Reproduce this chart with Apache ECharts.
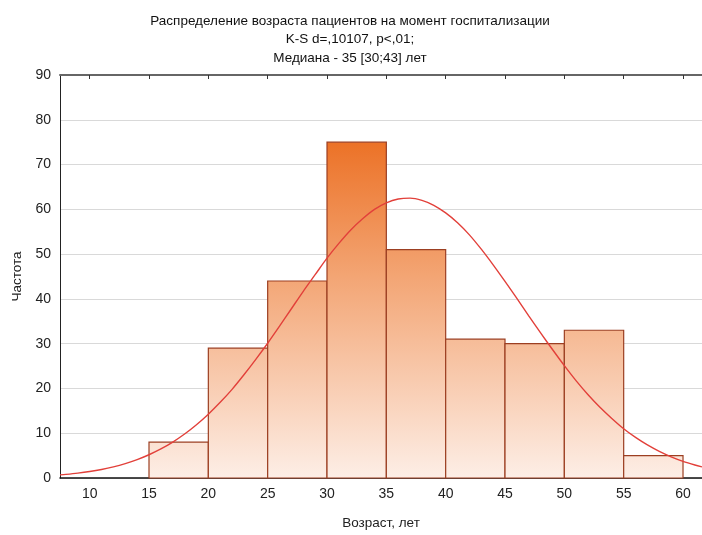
<!DOCTYPE html>
<html>
<head>
<meta charset="utf-8">
<script src="https://cdn.jsdelivr.net/npm/echarts@6/dist/echarts.min.js"></script>
<style>html,body{margin:0;padding:0;background:#fff}#c{width:702px;height:535px}</style>
</head>
<body>
<div id="c"></div>
<script>
var titleLines = ['Распределение возраста пациентов на момент госпитализации', 'K-S d=,10107, p<,01;', 'Медиана - 35 [30;43] лет'];
var binStart = [15, 20, 25, 30, 35, 40, 45, 50, 55];
var binEnd = [20, 25, 30, 35, 40, 45, 50, 55, 60];
var counts = [8, 29, 44, 75, 51, 31, 30, 33, 5];
var curveX = [7.5, 8, 9, 10, 11, 12, 13, 14, 15, 16, 17, 18, 19, 20, 21, 22, 23, 24, 25, 26, 27, 28, 29, 30, 31, 32, 33, 34, 35, 36, 37, 38, 39, 40, 41, 42, 43, 44, 45, 46, 47, 48, 49, 50, 51, 52, 53, 54, 55, 56, 57, 58, 59, 60, 61, 61.6];
var curveY = [0.7, 0.81, 1.09, 1.45, 1.91, 2.49, 3.22, 4.11, 5.19, 6.48, 8.02, 9.82, 11.9, 14.25, 16.9, 19.8, 23.05, 26.5, 30.1, 33.9, 37.8, 41.7, 45.4, 49.1, 52.4, 55.4, 57.9, 60.0, 61.45, 62.3, 62.5, 62.0, 60.9, 59.2, 57.0, 54.3, 51.1, 47.6, 43.9, 40.1, 36.2, 32.4, 28.7, 25.1, 21.7, 18.6, 15.8, 13.3, 11.0, 9.06, 7.38, 5.94, 4.73, 3.73, 2.91, 2.49];
var xTicks = [10, 15, 20, 25, 30, 35, 40, 45, 50, 55, 60];
var xName = 'Возраст, лет';
var yName = 'Частота';

var chart = echarts.init(document.getElementById('c'));
var barData = binStart.map(function (s, i) { return [s, binEnd[i], counts[i]]; });
var curveData = curveX.map(function (x, i) { return [x, curveY[i]]; });
var maxCount = Math.max.apply(null, counts);
var font = 'Liberation Sans, Arial, sans-serif';

chart.setOption({
  animation: false,
  title: {
    text: titleLines.join('\n'),
    left: 345, top: 7, textAlign: 'center',
    textStyle: { fontFamily: font, fontSize: 13.5, fontWeight: 'normal', color: '#111', lineHeight: 18.5 }
  },
  grid: { left: 60, right: 0, top: 75, bottom: 50 },
  xAxis: [{
    type: 'value', min: 7.5, max: 61.6, position: 'bottom',
    name: xName, nameLocation: 'middle', nameGap: 38,
    nameTextStyle: { fontFamily: font, fontSize: 13.5, color: '#222' },
    axisLine: { show: true, lineStyle: { color: '#111', width: 1.5 } },
    axisTick: { show: false },
    axisLabel: { customValues: xTicks, fontFamily: font, fontSize: 14, color: '#222', margin: 9 },
    splitLine: { show: false }
  }, {
    type: 'value', min: 7.5, max: 61.6, position: 'top',
    axisLine: { show: true, lineStyle: { color: '#666', width: 2 } },
    axisTick: { show: true, inside: true, length: 4, customValues: xTicks, lineStyle: { color: '#333' } },
    axisLabel: { show: false },
    splitLine: { show: false }
  }],
  yAxis: {
    type: 'value', min: 0, max: 90, interval: 10,
    name: yName, nameLocation: 'middle', nameGap: 36, nameRotate: 90,
    nameTextStyle: { fontFamily: font, fontSize: 13.5, color: '#222' },
    axisLine: { show: true, lineStyle: { color: '#222', width: 1 } },
    axisTick: { show: false },
    axisLabel: { fontFamily: font, fontSize: 14, color: '#222', margin: 9 },
    splitLine: { show: true, lineStyle: { color: '#d9d9d9', width: 1 } }
  },
  series: [{
    type: 'custom',
    data: barData,
    z: 2,
    renderItem: function (params, api) {
      var p0 = api.coord([api.value(0), api.value(2)]);
      var p1 = api.coord([api.value(1), 0]);
      var gTop = api.coord([0, maxCount])[1];
      var gBot = api.coord([0, 0])[1];
      return {
        type: 'rect',
        shape: { x: p0[0], y: p0[1], width: p1[0] - p0[0], height: p1[1] - p0[1] },
        style: {
          fill: new echarts.graphic.LinearGradient(0, gTop, 0, gBot, [
            { offset: 0, color: '#ec7227' },
            { offset: 0.4, color: '#f3a574' },
            { offset: 1, color: '#fdeee6' }
          ], true),
          stroke: '#9c3f22', lineWidth: 1.2
        }
      };
    }
  }, {
    type: 'line',
    data: curveData,
    smooth: 0.3,
    symbol: 'none',
    z: 5,
    lineStyle: { color: '#e2403a', width: 1.4 }
  }]
});
</script>
</body>
</html>
